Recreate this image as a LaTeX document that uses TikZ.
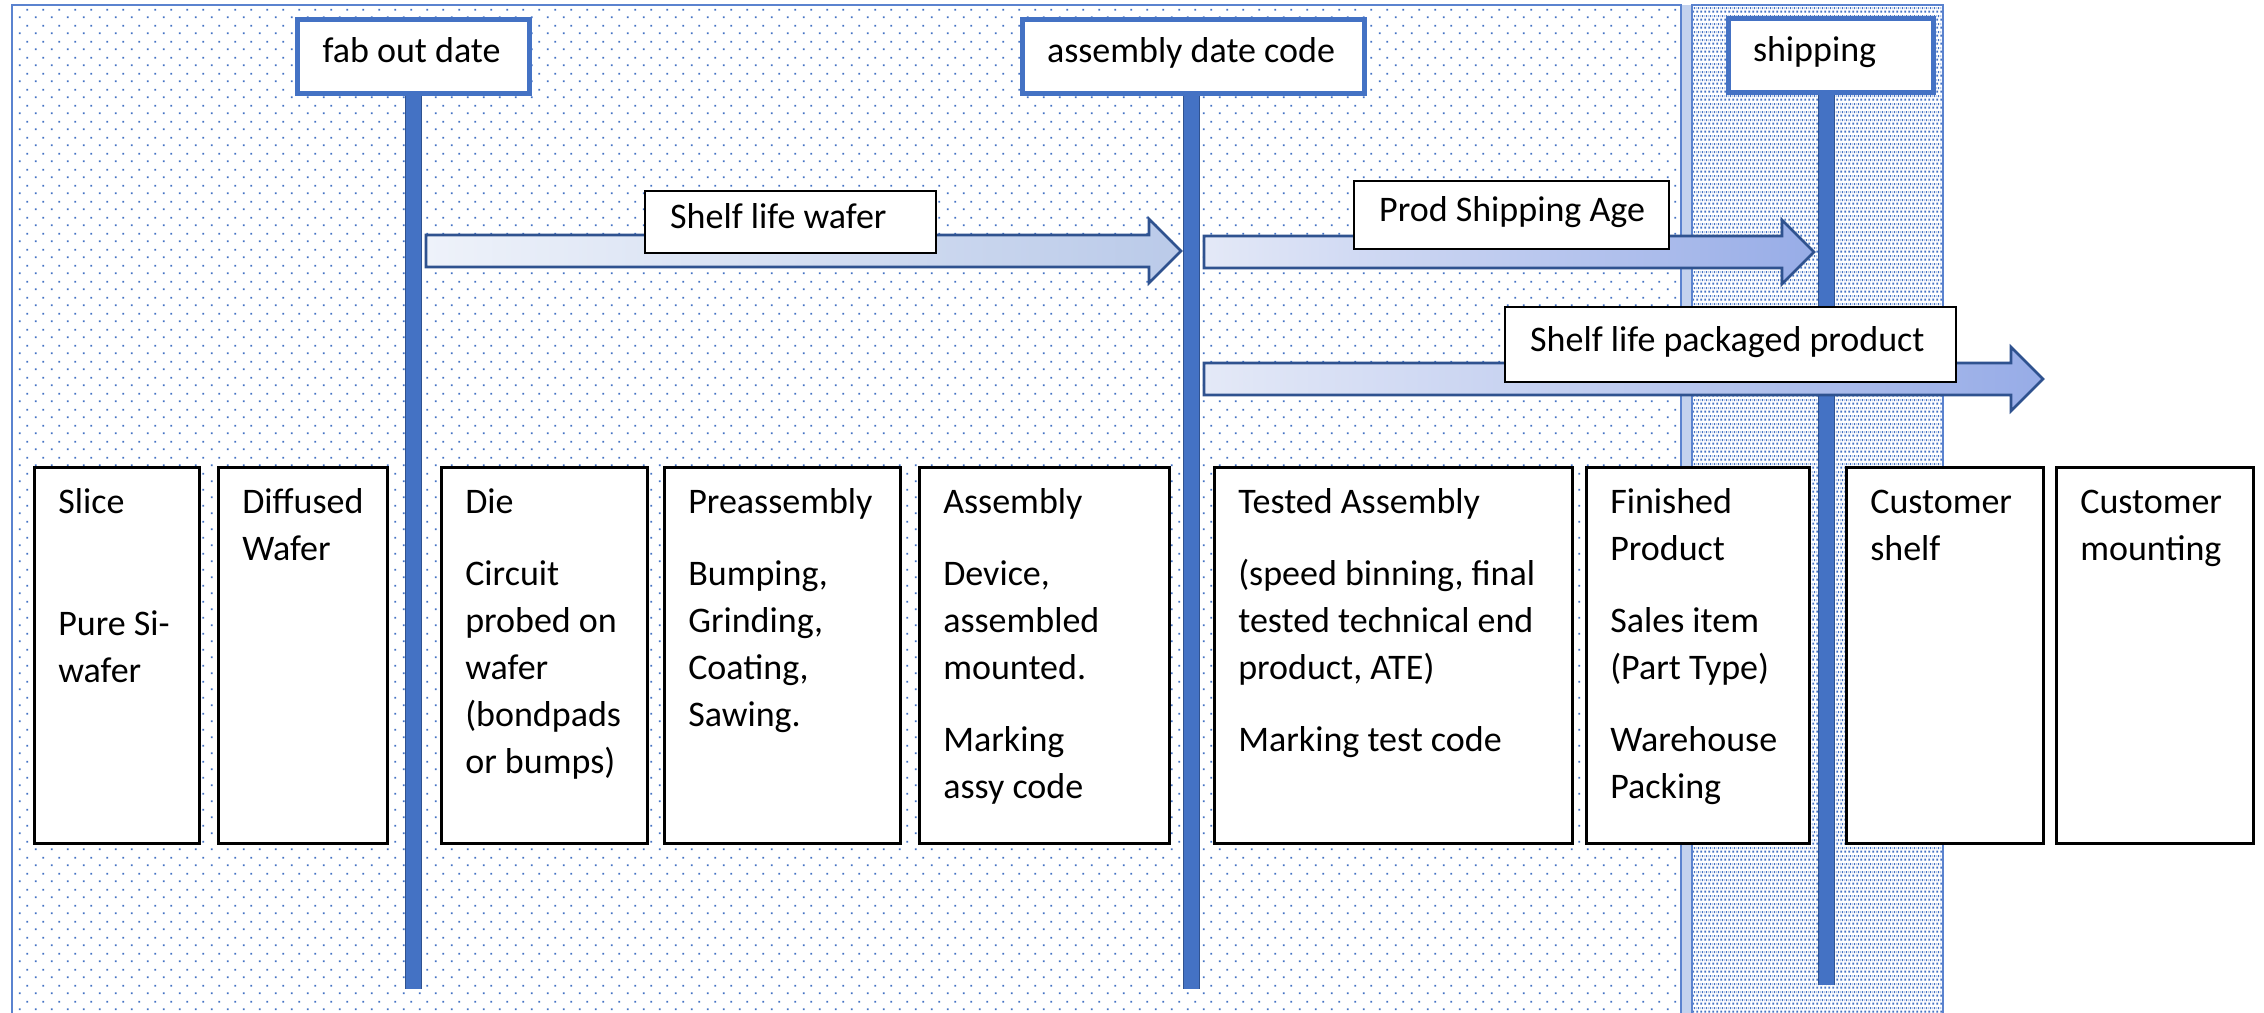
\documentclass[tikz,border=0pt]{standalone}
\usepackage{fontspec}
\setmainfont{Carlito}
\usetikzlibrary{patterns}

\pgfdeclarepatternformonly{sparsedots}{\pgfqpoint{0pt}{0pt}}{\pgfqpoint{8pt}{8pt}}{\pgfqpoint{8pt}{8pt}}{%
  \pgfpathrectangle{\pgfqpoint{1.5pt}{1.5pt}}{\pgfqpoint{1pt}{1pt}}\pgfusepath{fill}%
  \pgfpathrectangle{\pgfqpoint{5.5pt}{5.5pt}}{\pgfqpoint{1pt}{1pt}}\pgfusepath{fill}}
\pgfdeclarepatternformonly{densedots}{\pgfqpoint{0pt}{0pt}}{\pgfqpoint{2pt}{4pt}}{\pgfqpoint{2pt}{4pt}}{%
  \pgfpathrectangle{\pgfqpoint{0.2pt}{0.2pt}}{\pgfqpoint{1.1pt}{1.1pt}}\pgfusepath{fill}%
  \pgfpathrectangle{\pgfqpoint{1.2pt}{2.2pt}}{\pgfqpoint{0.8pt}{1.1pt}}\pgfusepath{fill}%
  \pgfpathrectangle{\pgfqpoint{0pt}{2.2pt}}{\pgfqpoint{0.3pt}{1.1pt}}\pgfusepath{fill}}

\definecolor{accent}{HTML}{4472C4}
\definecolor{accentdark}{HTML}{2F528F}
\definecolor{panelline}{HTML}{5B83CF}
\definecolor{gapband}{HTML}{C3D2EE}
\definecolor{aoneL}{HTML}{EEF2FA}
\definecolor{aoneM}{HTML}{A8BBE3}
\definecolor{aoneR}{HTML}{BACAE9}
\definecolor{atwoL}{HTML}{E4E9F7}
\definecolor{atwoR}{HTML}{97ACE7}

\newcommand\stg[2]{\parbox[c][188pt][t]{#1}{\raggedright\setlength\leftskip{12pt}\rule{0pt}{23pt}#2}}
\newcommand\hdr[2]{\makebox[#1][l]{\hspace*{12.5pt}\rule[-6pt]{0pt}{15pt}#2}}
\newcommand\blockarrow[4]{%
  \path[#1] (#2,#4-16) -- (#3-32,#4-16) -- (#3-32,#4-32) -- (#3,#4) -- (#3-32,#4+32) -- (#3-32,#4+16) -- (#2,#4+16) -- cycle;}

\tikzset{
  stage/.style={draw=black, line width=1.3pt, fill=white, anchor=north west, inner sep=0pt},
  hdrbox/.style={draw=accent, line width=2.5pt, fill=white, anchor=north west, inner sep=0pt, minimum height=37pt},
  lblbox/.style={draw=black, line width=1.2pt, fill=white, anchor=north west, inner sep=0pt},
  vline/.style={draw=accentdark, line width=0.5pt, double=accent, double distance=7.5pt},
  arrowone/.style={draw=accentdark, line width=1.3pt, line join=miter, left color=aoneL, middle color=aoneM, right color=aoneR},
  arrowtwo/.style={draw=accentdark, line width=1.3pt, line join=miter, left color=atwoL, right color=atwoR},
}

\begin{document}
\begin{tikzpicture}[x=0.5pt, y=-0.5pt, font=\fontsize{18pt}{23.5pt}\selectfont]
\useasboundingbox (0,0) rectangle (2264,1012);
\fill[white] (0,0) rectangle (2264,1012);

% panels
\fill[white] (12,5) rectangle (1681,1016);
\fill[pattern=sparsedots, pattern color=accent] (12,5) rectangle (1681,1016);
\fill[gapband] (1682,5) rectangle (1691,1016);
\draw[panelline, line width=1pt] (12,5) rectangle (1681,1016);
\fill[white] (1692,5) rectangle (1943,1016);
\fill[pattern=densedots, pattern color=accent] (1692,5) rectangle (1943,1016);
\draw[panelline, line width=1pt] (1692,5) rectangle (1943,1016);

% vertical time lines
\coordinate (fabtop) at (413.5,91);
\coordinate (fabbot) at (413.5,989);
\coordinate (asstop) at (1191.5,91);
\coordinate (assbot) at (1191.5,989);
\coordinate (shiptop) at (1826.5,91);
\coordinate (shipbot) at (1826.5,985);
\draw[vline] (fabtop) -- (fabbot);
\draw[vline] (asstop) -- (assbot);
\draw[vline] (shiptop) -- (shipbot);

% header boxes
\node[hdrbox, minimum width=116pt] (fab) at (295,17) {\hdr{116pt}{fab out date}};
\node[hdrbox, minimum width=171pt] (assy) at (1019.5,17) {\hdr{171pt}{assembly date code}};
\node[hdrbox, minimum width=102.5pt] (ship) at (1725.5,16) {\hdr{102.5pt}{shipping}};

% block arrows
\blockarrow{arrowone}{426}{1181}{251}
\blockarrow{arrowtwo}{1204}{1814}{252}
\blockarrow{arrowtwo}{1204}{2043}{379}

% arrow labels
\node[lblbox, minimum width=145.5pt, minimum height=31pt] (lwafer) at (644,190) {\hdr{145.5pt}{Shelf life wafer}};
\node[lblbox, minimum width=157.5pt, minimum height=34pt] (lship) at (1353,180) {\hdr{157.5pt}{Prod Shipping Age}};
\node[lblbox, minimum width=225.5pt, minimum height=37.5pt] (lpack) at (1504,306) {\hdr{225.5pt}{Shelf life packaged product}};

% stage boxes
\node[stage] (slice) at (33,466) {\stg{82.5pt}{Slice\\[37.5pt]Pure Si-\\wafer}};
\node[stage] (diff) at (217,466) {\stg{84.5pt}{Diffused\\Wafer}};
\node[stage] (die) at (440,466) {\stg{103pt}{Die\\[12.5pt]Circuit\\probed on\\wafer\\(bondpads\\or bumps)}};
\node[stage] (preass) at (663,466) {\stg{118pt}{Preassembly\\[12.5pt]Bumping,\\Grinding,\\Coating,\\Sawing.}};
\node[stage] (ass) at (918,466) {\stg{125pt}{Assembly\\[12.5pt]Device,\\assembled\\mounted.\\[12.5pt]Marking\\assy code}};
\node[stage] (tested) at (1213,466) {\stg{179pt}{Tested Assembly\\[12.5pt](speed binning, final\\tested technical end\\product, ATE)\\[12.5pt]Marking test code}};
\node[stage] (fin) at (1585,466) {\stg{111.5pt}{Finished\\Product\\[12.5pt]Sales item\\(Part Type)\\[12.5pt]Warehouse\\Packing}};
\node[stage] (cshelf) at (1845,466) {\stg{98.5pt}{Customer\\shelf}};
\node[stage] (cmount) at (2055,466) {\stg{98.5pt}{Customer\\mounting}};
\end{tikzpicture}
\end{document}
